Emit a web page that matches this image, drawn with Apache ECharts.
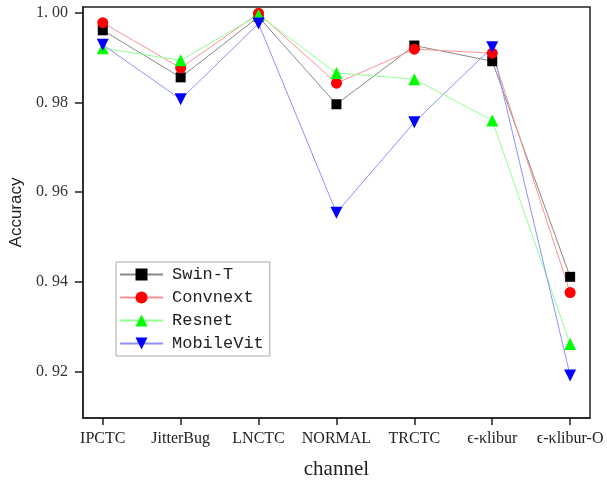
<!DOCTYPE html>
<html>
<head>
<meta charset="utf-8">
<script src="https://cdn.jsdelivr.net/npm/echarts@6/dist/echarts.min.js"></script>
<style>
  html, body { margin: 0; padding: 0; background: #fff; }
  #main { width: 607px; height: 485px; }
</style>
</head>
<body>
<div id="main"></div>
<script>
// 类别和数据
var categories = ['IPCTC', 'JitterBug', 'LNCTC', 'NORMAL', 'TRCTC', 'ϵ-κlibur', 'ϵ-κlibur-O'];
var swinT = [0.9961, 0.9856, 0.9991, 0.9796, 0.9927, 0.9892, 0.9411];
var convnext = [0.9978, 0.9877, 0.9999, 0.9843, 0.9919, 0.9910, 0.9376];
var resnet = [0.9921, 0.9894, 0.9995, 0.9866, 0.9852, 0.9760, 0.9261];
var mobileVit = [0.9929, 0.9807, 0.9976, 0.9554, 0.9756, 0.9923, 0.9191];
var yTicks = [0.92, 0.94, 0.96, 0.98, 1.00];
var xTicks = [0, 1, 2, 3, 4, 5, 6];

function pairs(arr) {
  return arr.map(function (v, i) { return [i, v]; });
}

function makeSeries(name, data, symbol, color, lineColor, size) {
  return {
    name: name,
    type: 'line',
    data: pairs(data),
    symbol: symbol,
    symbolSize: size,
    clip: false,
    itemStyle: { color: color },
    lineStyle: { color: lineColor, width: 1 },
    emphasis: { disabled: true }
  };
}

var myChart = echarts.init(document.getElementById('main'));

var option = {
  animation: false,
  grid: {
    left: 80, right: 17, top: 7, bottom: 66,
    show: true, borderColor: '#222', borderWidth: 1.5
  },
  legend: {
    orient: 'vertical',
    left: 116, top: 262,
    padding: [4, 6, 4, 3],
    itemWidth: 43, itemHeight: 15, itemGap: 6,
    backgroundColor: '#fff',
    borderColor: '#aaa', borderWidth: 1, borderRadius: 0,
    textStyle: { fontFamily: 'Liberation Mono', fontSize: 17, color: '#222', padding: [0, 0, 0, 4] },
    data: ['Swin-T', 'Convnext', 'Resnet', 'MobileVit']
  },
  xAxis: {
    type: 'value',
    min: -0.255, max: 6.255,
    name: 'channel',
    nameLocation: 'middle',
    nameGap: 41,
    nameTextStyle: { fontFamily: 'Liberation Serif', fontSize: 21, color: '#222' },
    axisLine: { onZero: false, lineStyle: { color: '#222', width: 1.5 } },
    axisTick: { show: true, length: 7, lineStyle: { color: '#222', width: 1.5 }, customValues: xTicks },
    axisLabel: {
      customValues: xTicks,
      margin: 13,
      fontFamily: 'Liberation Serif', fontSize: 16, color: '#222',
      formatter: function (v) { return categories[Math.round(v)]; }
    },
    splitLine: { show: false }
  },
  yAxis: {
    type: 'value',
    min: 0.9096, max: 1.0013,
    name: 'Accuracy',
    nameLocation: 'middle',
    nameGap: 57,
    nameTextStyle: { fontFamily: 'Liberation Sans', fontSize: 17, color: '#222' },
    axisLine: { show: true, onZero: false, lineStyle: { color: '#222', width: 1.5 } },
    axisTick: { show: true, length: 8, lineStyle: { color: '#222', width: 1.5 }, customValues: yTicks },
    axisLabel: {
      customValues: yTicks,
      margin: 15,
      fontFamily: 'Liberation Serif', fontSize: 16, color: '#333',
      formatter: function (v) { return v.toFixed(2).replace('.', '. '); }
    },
    splitLine: { show: false }
  },
  series: [
    makeSeries('Swin-T', swinT, 'rect', '#000', '#888', 10),
    makeSeries('Convnext', convnext, 'circle', '#ff0000', '#ff9090', 11),
    makeSeries('Resnet', resnet, 'triangle', '#00ff00', '#90ff90', 12),
    makeSeries('MobileVit', mobileVit, 'path://M0,0 L10,0 L5,9 Z', '#0000ff', '#9090ff', 12)
  ]
};

myChart.setOption(option);
</script>
</body>
</html>
